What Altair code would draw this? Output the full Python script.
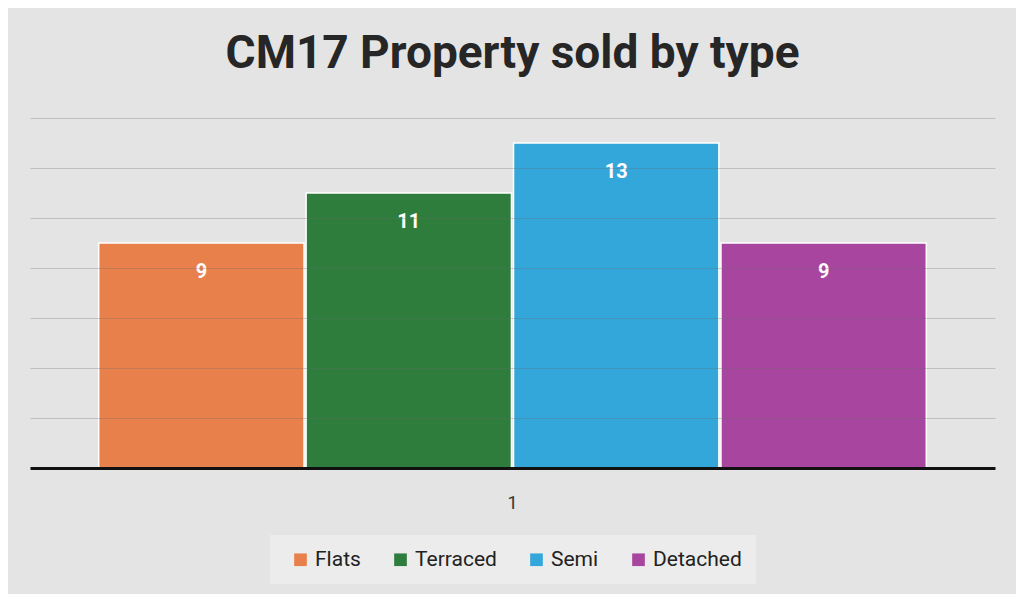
import altair as alt
import pandas as pd

groups = ["1", "1", "1", "1"]
types = ["Flats", "Terraced", "Semi", "Detached"]
counts = [9, 11, 13, 9]
colors = ["#E8804B", "#2E7D3D", "#33A7DA", "#A8459E"]
grid_values = [2, 4, 6, 8, 10, 12, 14]

df = pd.DataFrame({"group": groups, "type": types, "count": counts})

base = alt.Chart(df).encode(
    x=alt.X(
        "group:N",
        title=None,
        scale=alt.Scale(paddingInner=0, paddingOuter=0.083),
        axis=alt.Axis(
            labelAngle=0, labelFontSize=18, labelColor="#333333", labelPadding=26,
            ticks=False, domainColor="#111111", domainWidth=3, labelFont="Roboto",
            zindex=1,
        ),
    ),
    xOffset=alt.XOffset("type:N", sort=types, scale=alt.Scale(paddingInner=0.01, paddingOuter=0)),
    y=alt.Y(
        "count:Q",
        scale=alt.Scale(domain=[0, 14]),
        axis=alt.Axis(
            values=grid_values, labels=False, ticks=False, domain=False, title=None,
            grid=True, gridColor="#6a6a6a", gridOpacity=0.3, gridWidth=1, zindex=1,
        ),
    ),
)

bars = base.mark_bar(stroke="white", strokeWidth=1.5).encode(
    color=alt.Color(
        "type:N",
        sort=types,
        scale=alt.Scale(domain=types, range=colors),
        legend=alt.Legend(
            title=None, orient="none", direction="horizontal", legendX=240, legendY=417,
            symbolType="square", symbolSize=160, symbolStrokeWidth=0,
            labelFontSize=21, labelColor="#222222", labelFont="Roboto",
            columnPadding=23, padding=14, fillColor="#ececec", symbolOffset=6,
        ),
    )
)

labels = base.mark_text(
    dy=29, color="white", fontWeight="bold", fontSize=20, font="Roboto", baseline="middle"
).encode(text="count:Q")

chart = (
    alt.layer(bars, labels)
    .properties(
        width=965,
        height=350,
        autosize=alt.AutoSizeParams(type="none"),
        padding={"left": 22, "top": 110, "right": 21, "bottom": 126},
        title=alt.Title(
            "CM17 Property sold by type",
            fontSize=46, font="Roboto", fontWeight="bold", color="#262626",
            anchor="middle", offset=4, baseline="alphabetic",
        ),
    )
    .configure(background="#e4e4e4")
    .configure_view(stroke=None)
)

chart.save("out.html", embed_options={"renderer": "svg", "actions": False})
